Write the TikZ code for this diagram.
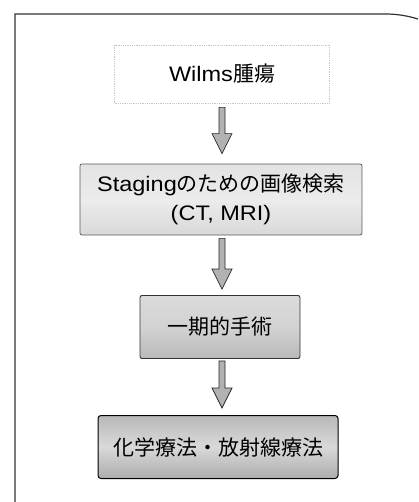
\documentclass[tikz,border=0pt]{standalone}
\usepackage{fontspec}
\usetikzlibrary{calc}
\newfontfamily\jpfont{Noto Sans CJK JP}
\newfontfamily\latfont[FakeStretch=1.12]{Liberation Sans}
\newcommand{\lt}[1]{{\latfont #1}}
\begin{document}
\begin{tikzpicture}[x=1pt,y=-1pt,
  boxtext/.style={font=\jpfont\fontsize{21pt}{30pt}\selectfont, align=center, text=black, inner sep=0pt},
  startbox/.style={boxtext, draw=gray!45, densely dotted, line width=0.8pt, fill=white},
  lightbox/.style={boxtext, draw=gray!70!black, line width=0.7pt, rounded corners=2pt,
     top color=gray!22, bottom color=gray!30, middle color=gray!15},
  midbox/.style={boxtext, draw=black!80, line width=0.9pt, rounded corners=2pt,
     top color=gray!28, bottom color=gray!55, middle color=gray!35},
  darkbox/.style={boxtext, draw=black, line width=1pt, rounded corners=3pt,
     top color=gray!55, bottom color=gray!65, middle color=gray!30},
  fatarrow/.style={draw=black!85, line width=0.7pt, fill=gray!60,
     to path={let \p1=(\tikztostart), \p2=(\tikztotarget) in
       (\x1-3pt,\y1) -- (\x1-3pt,\y2+20pt) -- (\x1-10pt,\y2+20pt) -- (\x1,\y2)
       -- (\x1+10pt,\y2+20pt) -- (\x1+3pt,\y2+20pt) -- (\x1+3pt,\y1) -- cycle}},
  framestyle/.style={draw=gray!40!black, line width=1.2pt}
]
\useasboundingbox (0,0) rectangle (418,502);
\fill[white] (0,0) rectangle (418,502);

% page frame
\coordinate (fbl) at (15,502);
\coordinate (ftl) at (15,14);
\coordinate (ftr) at (385,14);
\coordinate (fend) at (418,19);
\draw[framestyle] (fbl) -- (ftl) -- (ftr) .. controls (398,14) and (408,16) .. (fend);

% boxes
\node[startbox, minimum width=215pt, minimum height=58pt] (b1) at (222,74) {\lt{Wilms}腫瘍};
\node[lightbox, minimum width=282pt, minimum height=71pt] (b2) at (221,199.5)
   {\lt{Staging}のための画像検索\\[-1pt]\lt{(CT, MRI)}};
\node[midbox, minimum width=160pt, minimum height=63pt] (b3) at (220,327) {一期的手術};
\node[darkbox, minimum width=240pt, minimum height=63pt] (b4) at (218,447) {化学療法・放射線療法};

% arrows
\path[fatarrow] ([yshift=-4pt]b1.south) to ([yshift=10pt]b2.north);
\path[fatarrow] ([xshift=1pt,yshift=-3pt]b2.south) to ([xshift=1pt,yshift=6pt]b3.north);
\path[fatarrow] ([xshift=2pt,yshift=-2pt]b3.south) to ([xshift=4pt,yshift=7pt]b4.north);
\end{tikzpicture}
\end{document}
